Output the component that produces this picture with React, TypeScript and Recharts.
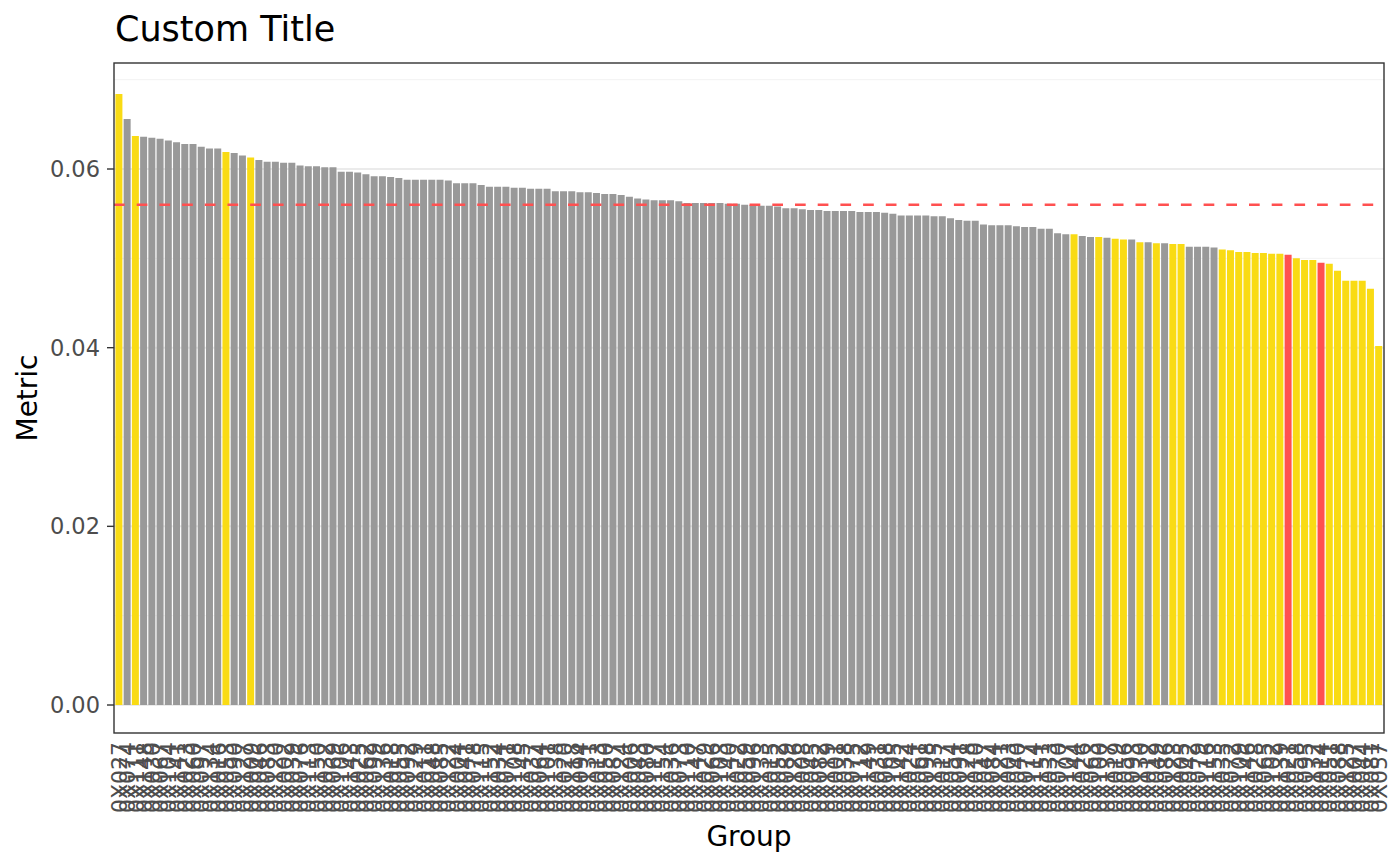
import React from "react";
import { BarChart, Bar, XAxis, YAxis, CartesianGrid, ReferenceLine, Cell } from "recharts";

const categories: string[] = [
  "0X027","0X074","0X111","0X148","0X030","0X067","0X104","0X141","0X023","0X060",
  "0X097","0X134","0X016","0X053","0X090","0X127","0X009","0X046","0X083","0X120",
  "0X002","0X039","0X076","0X113","0X150","0X032","0X069","0X106","0X143","0X025",
  "0X062","0X099","0X136","0X018","0X055","0X092","0X129","0X011","0X048","0X085",
  "0X122","0X004","0X041","0X078","0X115","0X152","0X034","0X071","0X108","0X145",
  "0X037","0X064","0X101","0X138","0X020","0X118","0X094","0X131","0X013","0X050",
  "0X087","0X124","0X006","0X043","0X080","0X117","0X154","0X036","0X073","0X110",
  "0X147","0X029","0X066","0X103","0X140","0X022","0X059","0X096","0X133","0X015",
  "0X052","0X089","0X126","0X008","0X045","0X082","0X119","0X001","0X038","0X075",
  "0X112","0X149","0X031","0X068","0X105","0X142","0X024","0X061","0X098","0X135",
  "0X017","0X054","0X091","0X128","0X010","0X047","0X084","0X121","0X003","0X040",
  "0X077","0X114","0X151","0X033","0X070","0X107","0X144","0X026","0X063","0X100",
  "0X137","0X019","0X056","0X093","0X130","0X012","0X049","0X086","0X123","0X005",
  "0X042","0X079","0X116","0X153","0X035","0X072","0X109","0X146","0X028","0X065",
  "0X102","0X139","0X021","0X058","0X095","0X132","0X014","0X051","0X088","0X125",
  "0X007","0X044","0X081","0X057"
];

const metricValues: number[] = [
  0.0684,0.0656,0.0637,0.0636,0.0635,0.0634,0.0632,0.0630,0.0628,0.0628,
  0.0625,0.0623,0.0623,0.0619,0.0618,0.0615,0.0613,0.0610,0.0608,0.0608,
  0.0607,0.0607,0.0604,0.0603,0.0603,0.0602,0.0602,0.0597,0.0597,0.0596,
  0.0594,0.0592,0.0592,0.0591,0.0590,0.0588,0.0588,0.0588,0.0588,0.0588,
  0.0587,0.0584,0.0584,0.0584,0.0582,0.0580,0.0580,0.0580,0.0579,0.0579,
  0.0578,0.0578,0.0578,0.0575,0.0575,0.0575,0.0574,0.0574,0.0573,0.0572,
  0.0572,0.0571,0.0569,0.0567,0.0566,0.0565,0.0565,0.0565,0.0564,0.0562,
  0.0562,0.0562,0.0562,0.0562,0.0561,0.0561,0.0560,0.0560,0.0559,0.0559,
  0.0558,0.0556,0.0556,0.0555,0.0554,0.0554,0.0553,0.0553,0.0553,0.0553,
  0.0552,0.0552,0.0552,0.0551,0.0550,0.0548,0.0548,0.0548,0.0548,0.0547,
  0.0547,0.0545,0.0543,0.0542,0.0542,0.0538,0.0537,0.0537,0.0537,0.0536,
  0.0535,0.0535,0.0533,0.0533,0.0528,0.0527,0.0527,0.0525,0.0524,0.0524,
  0.0523,0.0522,0.0521,0.0521,0.0518,0.0518,0.0517,0.0517,0.0516,0.0516,
  0.0513,0.0513,0.0513,0.0512,0.0510,0.0509,0.0507,0.0507,0.0506,0.0506,
  0.0505,0.0505,0.0504,0.0500,0.0498,0.0498,0.0495,0.0494,0.0486,0.0475,
  0.0475,0.0475,0.0466,0.0402
];

// G = grey, Y = highlighted (yellow), R = flagged (red)
const statusCodes: string[] = [
  "Y","G","Y","G","G","G","G","G","G","G",
  "G","G","G","Y","G","G","Y","G","G","G",
  "G","G","G","G","G","G","G","G","G","G",
  "G","G","G","G","G","G","G","G","G","G",
  "G","G","G","G","G","G","G","G","G","G",
  "G","G","G","G","G","G","G","G","G","G",
  "G","G","G","G","G","G","G","G","G","G",
  "G","G","G","G","G","G","G","G","G","G",
  "G","G","G","G","G","G","G","G","G","G",
  "G","G","G","G","G","G","G","G","G","G",
  "G","G","G","G","G","G","G","G","G","G",
  "G","G","G","G","G","G","Y","G","G","Y",
  "G","Y","Y","G","Y","G","Y","G","Y","Y",
  "G","G","G","G","Y","Y","Y","Y","Y","Y",
  "Y","Y","R","Y","Y","Y","R","Y","Y","Y",
  "Y","Y","Y","Y"
];

const referenceValue = 0.056;
const majorTicks: number[] = [0, 0.02, 0.04, 0.06];
const minorTicks: number[] = [0.01, 0.03, 0.05, 0.07];
const yDomain: number[] = [-0.003134, 0.071866];

const statusColors: Record<string, string> = {
  G: "#999999",
  Y: "#F9DB14",
  R: "#FF5050",
};

const data = categories.map((label, i) => ({
  label,
  value: metricValues[i],
  status: statusCodes[i],
}));

const FONT = '"DejaVu Sans", sans-serif';

const RotatedTick = (props: any) => {
  const { x, y, payload } = props;
  return (
    <g transform={`translate(${x},${y})`}>
      <text
        transform="rotate(-90)"
        x={-9}
        y={0}
        dy="0.36em"
        textAnchor="end"
        fill="#4D4D4D"
        fontSize={22}
        fontFamily={FONT}
      >
        {payload.value}
      </text>
    </g>
  );
};

export default function App() {
  return (
    <div
      style={{
        position: "absolute",
        left: 0,
        top: 0,
        width: 1400,
        height: 866,
        background: "#ffffff",
        fontFamily: FONT,
        overflow: "hidden",
      }}
    >
      <div
        style={{
          position: "absolute",
          left: 115,
          top: 12,
          fontSize: 35,
          lineHeight: "35px",
          color: "#000",
          whiteSpace: "nowrap",
        }}
      >
        Custom Title
      </div>
      <BarChart
        width={1400}
        height={866}
        data={data}
        margin={{ top: 63, right: 16, bottom: 0, left: 0 }}
        barCategoryGap="5%"
      >
        <CartesianGrid
          vertical={false}
          horizontalValues={minorTicks}
          stroke="#F2F2F2"
          strokeWidth={1}
        />
        <CartesianGrid
          vertical={false}
          horizontalValues={majorTicks}
          stroke="#EBEBEB"
          strokeWidth={2}
        />
        <XAxis
          dataKey="label"
          interval={0}
          tick={<RotatedTick />}
          tickLine={false}
          axisLine={false}
          tickSize={0}
          tickMargin={0}
          height={133}
          padding={{ left: 1, right: 1 }}
        />
        <YAxis
          type="number"
          width={114}
          domain={yDomain}
          allowDataOverflow
          ticks={majorTicks}
          tickFormatter={(v: number) => v.toFixed(2)}
          tick={{ fill: "#4D4D4D", fontSize: 22.5, fontFamily: FONT }}
          tickSize={7}
          tickMargin={7}
          tickLine={{ stroke: "#333333", strokeWidth: 1.4 }}
          axisLine={false}
        />
        <Bar dataKey="value" isAnimationActive={false}>
          {data.map((d, i) => (
            <Cell key={i} fill={statusColors[d.status]} />
          ))}
        </Bar>
        <ReferenceLine
          y={referenceValue}
          stroke="#FF5050"
          strokeWidth={2.3}
          strokeDasharray="10.7 12"
        />
      </BarChart>
      <svg
        width={1400}
        height={866}
        style={{ position: "absolute", left: 0, top: 0, pointerEvents: "none" }}
      >
        <rect x={114} y={63} width={1270} height={670} fill="none" stroke="#333333" strokeWidth={1.4} />
      </svg>
      <div
        style={{
          position: "absolute",
          left: 27,
          top: 398,
          transform: "translate(-50%, -50%) rotate(-90deg)",
          fontSize: 28,
          color: "#000",
          whiteSpace: "nowrap",
        }}
      >
        Metric
      </div>
      <div
        style={{
          position: "absolute",
          left: 749,
          top: 836,
          transform: "translate(-50%, -50%)",
          fontSize: 28,
          color: "#000",
          whiteSpace: "nowrap",
        }}
      >
        Group
      </div>
    </div>
  );
}
